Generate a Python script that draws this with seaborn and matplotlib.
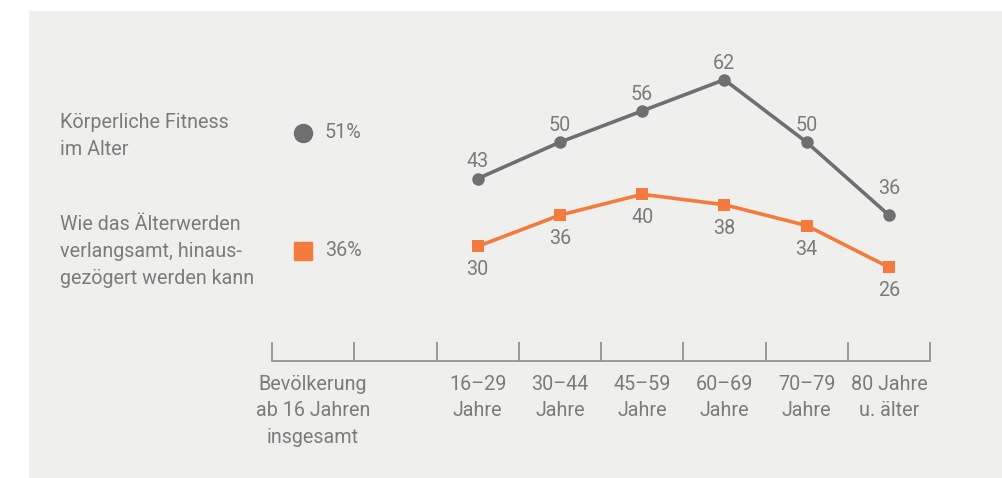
import matplotlib
matplotlib.use("Agg")
import matplotlib.pyplot as plt
from matplotlib.patches import Rectangle
from matplotlib.ticker import FixedLocator
import seaborn as sns
import pandas as pd

# Data ---------------------------------------------------------------
altersgruppen = ["16–29\nJahre", "30–44\nJahre", "45–59\nJahre",
                 "60–69\nJahre", "70–79\nJahre", "80 Jahre\nu. älter"]
gesamt_label = "Bevölkerung\nab 16 Jahren\ninsgesamt"

reihe_fitness = "Körperliche Fitness\nim Alter"
reihe_altern = "Wie das Älterwerden\nverlangsamt, hinaus-\ngezögert werden kann"

fitness_werte = [43, 50, 56, 62, 50, 36]
altern_werte = [30, 36, 40, 38, 34, 26]
fitness_gesamt = 51
altern_gesamt = 36

# Style --------------------------------------------------------------
sns.set_theme(style="white")
plt.rcParams["font.family"] = ["Roboto", "DejaVu Sans"]

GRAU = "#6f6f71"
ORANGE = "#f47a3d"
TEXT = "#7b7b7b"
PANEL = "#efefed"
ACHSE = "#8c8c8c"
FS = 14.2

fig = plt.figure(figsize=(10.02, 4.78), dpi=100, facecolor="white")

# full-figure pixel axes for the panel background and the left-hand key
lax = fig.add_axes([0, 0, 1, 1], facecolor="none", zorder=0)
lax.set_xlim(0, 1002)
lax.set_ylim(478, 0)
lax.axis("off")
lax.add_patch(Rectangle((29, 11), 1002 - 29, 478 - 11, facecolor=PANEL,
                        edgecolor="none", zorder=0))

ax = fig.add_axes([272 / 1002, (478 - 361) / 478, 658 / 1002, 323 / 478],
                  zorder=2)
ax.set_facecolor("none")

# slot 0: total population, slot 1: spacer, slots 2..7: age groups
positionen = [i + 2 for i in range(len(altersgruppen))]
df = pd.DataFrame({
    "pos": positionen * 2,
    "wert": fitness_werte + altern_werte,
    "reihe": [reihe_fitness] * len(fitness_werte) + [reihe_altern] * len(altern_werte),
})

sns.lineplot(data=df, x="pos", y="wert", hue="reihe", style="reihe",
             palette={reihe_fitness: GRAU, reihe_altern: ORANGE},
             markers={reihe_fitness: "o", reihe_altern: "s"},
             dashes=False, markersize=9, markeredgewidth=0,
             linewidth=2.6, legend=False, ax=ax)

ax.set_xlim(-0.5, 7.5)
ax.set_ylim(8, 70)

# value labels
for i, (p, v) in enumerate(zip(positionen, fitness_werte)):
    off = 19 if i == len(fitness_werte) - 1 else 12
    ax.annotate(str(v), (p, v), xytext=(0, off), textcoords="offset points",
                ha="center", va="center", color=TEXT, fontsize=FS)
for p, v in zip(positionen, altern_werte):
    ax.annotate(str(v), (p, v), xytext=(0, -17), textcoords="offset points",
                ha="center", va="center", color=TEXT, fontsize=FS)

# axis: only the bottom line with upward separators between slots
for s in ["top", "right", "left"]:
    ax.spines[s].set_visible(False)
ax.spines["bottom"].set_color(ACHSE)
ax.spines["bottom"].set_linewidth(1.2)
ax.set_yticks([])
ax.set_xticks([0] + positionen)
ax.set_xticklabels([gesamt_label] + altersgruppen, fontsize=FS, color=TEXT,
                   linespacing=1.5, va="top")
ax.xaxis.set_minor_locator(FixedLocator([k - 0.5 for k in range(9)]))
ax.tick_params(axis="x", which="major", bottom=True, length=0, pad=10)
ax.tick_params(axis="x", which="minor", bottom=True, direction="in",
               length=14, width=1.2, color=ACHSE)
ax.set_xlabel("")
ax.set_ylabel("")

# series descriptions with overall values on the left
lax.text(60, 113, reihe_fitness, fontsize=FS, color=TEXT,
         va="top", ha="left", linespacing=1.55)
lax.text(60, 215, reihe_altern, fontsize=FS, color=TEXT,
         va="top", ha="left", linespacing=1.55)
lax.plot([303], [133], marker="o", markersize=13, color=GRAU, linestyle="none")
lax.plot([303], [251], marker="s", markersize=13, color=ORANGE, linestyle="none")
lax.text(325, 133, f"{fitness_gesamt}%", fontsize=FS, color=TEXT, va="center", ha="left")
lax.text(325, 251, f"{altern_gesamt}%", fontsize=FS, color=TEXT, va="center", ha="left")

fig.savefig("out.png", dpi=100, facecolor="white")
